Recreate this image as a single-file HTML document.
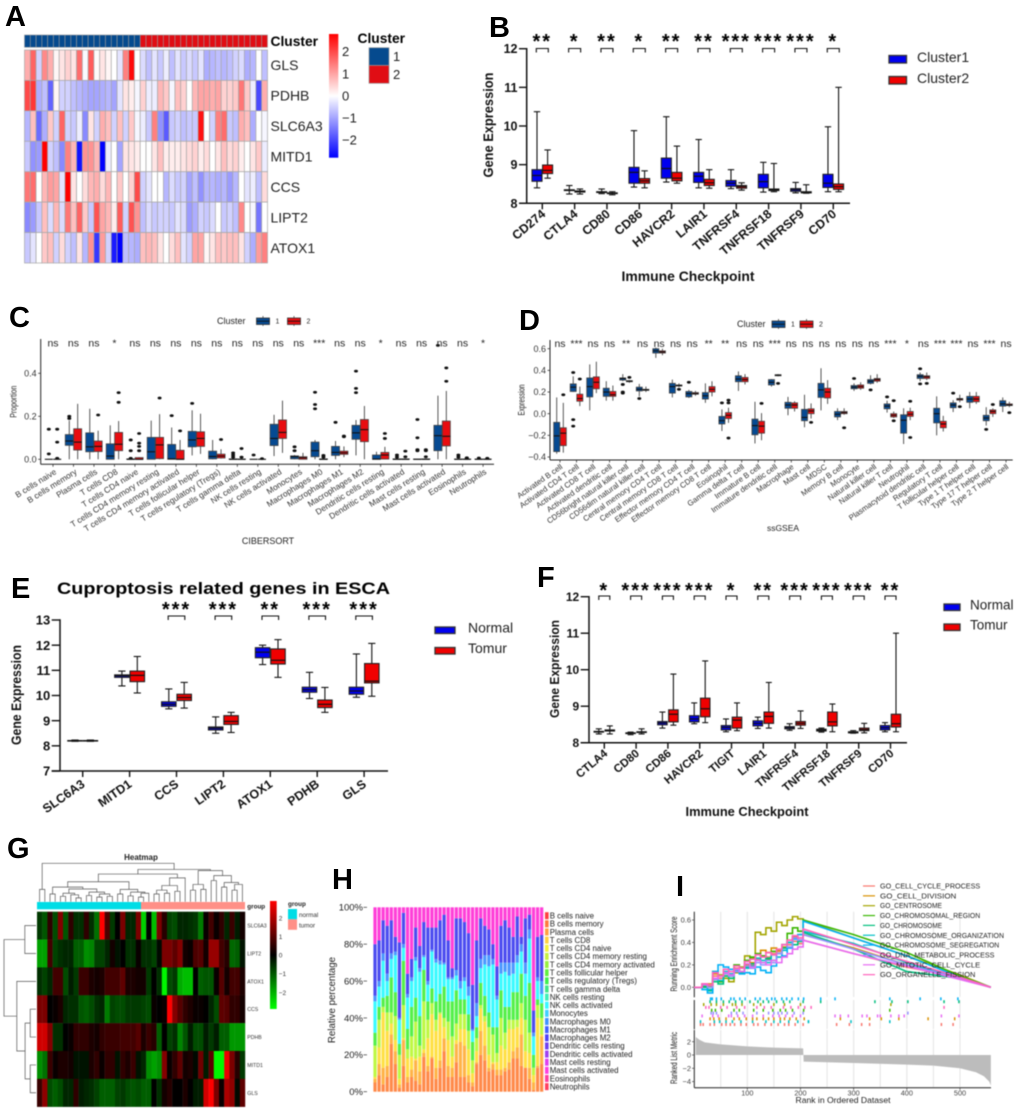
<!DOCTYPE html>
<html><head><meta charset="utf-8"><title>Cuproptosis figure</title>
<style>
html,body{margin:0;padding:0;background:#fff;}
svg{display:block;font-family:"Liberation Sans",Arial,sans-serif;}
.soft{filter:blur(.45px);}
.softer{filter:blur(.55px);}
</style></head>
<body>
<svg id="root" width="1020" height="1111" viewBox="0 0 1020 1111">
<g id="pA" class="soft"></g>
<g id="pB" class="soft"></g>
<g id="pC" class="softer"></g>
<g id="pD" class="softer"></g>
<g id="pE" class="soft"></g>
<g id="pF" class="soft"></g>
<g id="pG" class="softer"></g>
<g id="pH" class="soft"></g>
<g id="pI" class="softer"></g>
<g id="letters"></g>
</svg>
<script>
/* ---------- Panel A data ---------- */
const aRows=['GLS','PDHB','SLC6A3','MITD1','CCS','LIPT2','ATOX1'];
const aGLS=[.9,1.7,-.5,1.3,.9,.1,.3,.5,.3,1.6,-.05,1.8,.05,.3,.1,0,-.3,1.4,2.7,0,-.4,-.7,-.3,-.6,-.2,-.7,-.3,-.6,-.4,-.6,-.3,-.9,-.8,-.7,-.8,-.7,-.5,-.4,-.9,-.8,0,-.7];
const aPDHB=[2,2.2,-.9,-.7,-1.7,.1,-.5,-.5,-.7,-.8,-.9,-1,-1,-.9,-.8,-1,-.3,.3,.2,-.1,.5,-.2,-.2,.8,.6,-.1,.7,.5,0,.8,1,1,.9,1,.5,.5,.6,1.5,.6,-.2,-2,.9];
const aSLC=[-.8,.7,-1.6,-.9,.6,-.5,1.7,-.5,-.6,-.2,-1.3,.3,-.5,.9,.7,-.5,.7,-.5,.6,-.1,-.2,-.6,1.4,-1.2,-1.8,-.6,-.5,-.7,-.6,-.6,2.6,0,-.5,1.4,1.6,-.6,-.7,.9,.7,-.9,0,-.1];
const aMITD=[-.6,-1.2,-1.1,2.8,-.5,-.7,-1.3,1.4,.8,-2.6,1.2,1.2,.8,-2.8,-.2,0,-1,.3,.3,.2,0,0,.3,.7,.2,.2,.2,.3,.4,.5,.2,.4,0,.3,.7,.4,.5,.2,0,.3,.6,-.2];
const aCCS=[1.5,1.6,0,.8,1.1,1,-.3,2.8,.3,0,.4,.8,.9,.4,.8,0,.6,0,.5,2,-.5,-.3,0,0,-.8,-.4,-.6,-.5,-1,-.7,-1.2,-.8,-.8,-.9,-.8,-1.1,-.8,0,-.3,-.2,-.7,.4];
const aLIPT=[-1.3,-1.1,-.6,.7,-.4,.8,-.4,1.5,.7,1.7,.6,-.6,1.9,1,.8,.2,1.8,-.5,1.9,1.2,-.7,-.4,-.6,-.5,-.5,-.6,-.3,-.4,-1.1,-.9,-.5,-.6,-.4,0,-.6,-.5,-.7,1.3,0,-.1,-1.5,0];
const aATOX=[-.6,-.3,0,.6,.7,-.5,.4,-.5,-.7,.3,-.8,1.2,-2.2,1.1,-.5,-2.5,-2.8,-.7,-.8,-.9,.7,.8,.7,.3,0,.4,.7,-.3,-.5,1,1,.1,.3,.7,.6,.7,.7,.3,-.5,-.9,1.1,1.4];
const aTicks=[2,1,0,-1,-2];
const aClusterSizes=[20,22];

/* ---------- Panel B data: [low,q1,median,q3,high] ---------- */
const bCats=['CD274','CTLA4','CD80','CD86','HAVCR2','LAIR1','TNFRSF4','TNFRSF18','TNFRSF9','CD70'];
const bSig=['**','*','**','*','**','**','***','***','***','*'];
const bC1=[[8.4,8.57,8.72,8.87,10.37],[8.24,8.33,8.34,8.35,8.46],[8.25,8.28,8.29,8.3,8.37],[8.42,8.52,8.8,8.93,9.88],[8.55,8.65,8.9,9.17,10.24],[8.4,8.54,8.7,8.8,9.65],[8.38,8.44,8.52,8.59,8.87],[8.29,8.4,8.56,8.75,9.06],[8.27,8.31,8.35,8.38,8.54],[8.3,8.41,8.52,8.75,9.98]];
const bC2=[[8.65,8.77,8.85,8.99,9.38],[8.24,8.29,8.31,8.32,8.37],[8.22,8.25,8.26,8.27,8.3],[8.4,8.52,8.58,8.64,8.84],[8.52,8.58,8.65,8.8,9.48],[8.39,8.46,8.53,8.62,8.87],[8.34,8.39,8.43,8.46,8.53],[8.3,8.33,8.35,8.37,9.03],[8.26,8.27,8.28,8.3,8.48],[8.3,8.36,8.43,8.5,11]];
const bTicks=[8,9,10,11,12];

/* ---------- Panel C data: [low,q1,median,q3,high,outliers] ---------- */
const cCats=['B cells naive','B cells memory','Plasma cells','T cells CD8','T cells CD4 naive','T cells CD4 memory resting','T cells CD4 memory activated','T cells follicular helper','T cells regulatory (Tregs)','T cells gamma delta','NK cells resting','NK cells activated','Monocytes','Macrophages M0','Macrophages M1','Macrophages M2','Dendritic cells resting','Dendritic cells activated','Mast cells resting','Mast cells activated','Eosinophils','Neutrophils'];
const cSig=['ns','ns','ns','*','ns','ns','ns','ns','ns','ns','ns','ns','ns','***','ns','ns','*','ns','ns','ns','ns','*'];
const cC1=[[0,0,0,0,0,[.025,.14]],[0,.065,.085,.115,.18,[.19,.2]],[0,.035,.058,.123,.235,[]],[0,0,.015,.072,.158,[]],[0,0,0,.002,.002,[.005,.04,.09]],[0,0,.035,.102,.18,[]],[0,0,.002,.069,.148,[.203]],[.018,.058,.09,.13,.228,[.26]],[0,.002,.013,.038,.09,[]],[0,0,0,.002,.002,[.01,.02,.03]],[0,0,0,0,0,[.02]],[.015,.064,.097,.163,.207,[]],[0,.002,.012,.016,.02,[.04,.058]],[0,.012,.04,.08,.09,[.235,.255,.312]],[0,.018,.032,.06,.085,[.172]],[.018,.093,.123,.158,.183,[.31,.33,.41]],[0,0,.001,.02,.035,[]],[0,0,0,.002,.002,[.01,.02]],[0,0,0,.001,.001,[.04,.045,.1,.185]],[0,.04,.11,.158,.296,[.53]],[0,0,0,.001,.001,[.01,.02]],[0,0,0,.001,.001,[.006]]];
const cC2=[[0,0,0,0,0,[.005,.08,.14]],[0,.043,.08,.142,.258,[]],[0,.036,.06,.085,.133,[.206]],[0,.04,.07,.125,.178,[.265,.31]],[0,0,0,.008,.01,[.04,.06,.075,.12]],[0,.003,.067,.102,.21,[.285]],[0,0,0,.042,.09,[.132]],[.025,.06,.097,.128,.212,[]],[.003,.006,.015,.024,.047,[.092]],[0,0,0,.001,.001,[.01,.05]],[0,0,0,0,0,[.003]],[.03,.097,.125,.183,.273,[]],[0,0,.007,.012,.03,[]],[0,0,0,.002,.004,[.01,.018]],[.01,.023,.03,.038,.06,[.105,.108]],[0,.082,.138,.185,.248,[]],[0,.001,.02,.032,.058,[.097,.12]],[0,0,0,.002,.002,[.012,.038]],[0,0,0,.002,.002,[.012,.04,.045]],[0,.062,.107,.178,.318,[.363,.425]],[0,0,0,.001,.001,[.005,.007]],[0,0,0,.001,.001,[.005]]];
const cTicks=[0,.2,.4];

/* ---------- Panel D data ---------- */
const dCats=['Activated B cell','Activated CD4 T cell','Activated CD8 T cell','Activated dendritic cell','CD56bright natural killer cell','CD56dim natural killer cell','Central memory CD4 T cell','Central memory CD8 T cell','Effector memory CD4 T cell','Effector memory CD8 T cell','Eosinophil','Gamma delta T cell','Immature  B cell','Immature dendritic cell','Macrophage','Mast cell','MDSC','Memory B cell','Monocyte','Natural killer cell','Natural killer T cell','Neutrophil','Plasmacytoid dendritic cell','Regulatory T cell','T follicular helper cell','Type 1 T helper cell','Type 17 T helper cell','Type 2 T helper cell'];
const dSig=['ns','***','ns','ns','**','ns','ns','ns','ns','**','**','ns','ns','***','ns','ns','ns','ns','ns','ns','***','*','ns','***','***','ns','***','ns'];
const dC1=[[-.37,-.35,-.205,-.08,.15,[]],[.2,.205,.245,.275,.345,[.38,-.055,-.115]],[.03,.155,.25,.33,.455,[]],[.12,.16,.2,.235,.3,[]],[.3,.31,.325,.33,.365,[.27,.2,.19]],[.16,.21,.225,.245,.275,[.14]],[.515,.56,.58,.6,.61,[]],[.15,.19,.25,.28,.315,[]],[.145,.155,.185,.205,.22,[.29]],[.1,.135,.165,.195,.28,[]],[-.16,-.095,-.065,-.025,.04,[.1]],[.21,.295,.32,.35,.39,[]],[-.275,-.195,-.11,-.05,.11,[]],[.25,.265,.29,.315,.32,[]],[-.015,.05,.08,.105,.155,[]],[-.125,-.065,-.035,.04,.175,[]],[.03,.15,.22,.28,.42,[]],[-.06,-.03,-.005,.02,.05,[]],[.21,.23,.245,.26,.28,[.325]],[.27,.28,.3,.315,.355,[.22]],[.01,.045,.07,.09,.12,[.155]],[-.28,-.18,-.06,-.01,.05,[]],[.3,.325,.345,.36,.38,[.415,.275]],[-.2,-.085,0,.05,.16,[]],[.015,.055,.08,.1,.125,[.19]],[.05,.105,.135,.16,.2,[]],[-.11,-.065,-.04,-.015,.06,[-.145]],[.015,.07,.09,.12,.15,[]]];
const dC2=[[-.36,-.295,-.18,-.13,.1,[.175]],[.07,.115,.14,.18,.25,[.32]],[.19,.23,.29,.34,.48,[]],[.12,.16,.175,.205,.26,[]],[.285,.295,.3,.305,.31,[.335]],[.2,.215,.22,.225,.25,[]],[.54,.56,.57,.58,.6,[]],[.245,.255,.26,.265,.28,[.225]],[.165,.18,.185,.195,.21,[]],[.16,.2,.225,.25,.3,[]],[-.085,-.045,-.015,.01,.055,[.125,.1,-.225]],[.27,.295,.315,.335,.365,[]],[-.245,-.18,-.115,-.07,.005,[.095]],[.345,.35,.355,.36,.365,[.28]],[.02,.05,.08,.1,.115,[]],[-.045,0,.025,.045,.095,[-.08]],[.09,.145,.2,.235,.31,[]],[-.01,0,.01,.02,.05,[-.13]],[.22,.235,.25,.265,.29,[]],[.285,.3,.315,.325,.365,[]],[-.04,-.03,-.015,0,.02,[.12,-.065]],[-.06,-.025,-.005,.02,.055,[.115,-.22]],[.31,.325,.34,.35,.38,[.28]],[-.165,-.13,-.095,-.07,-.02,[]],[.105,.125,.135,.14,.175,[.065]],[.09,.11,.135,.16,.2,[]],[-.03,0,.02,.035,.05,[.085]],[.06,.075,.08,.09,.11,[.01]]];
const dTicks=[-.4,-.2,0,.2,.4,.6];

/* ---------- Panel E data ---------- */
const eCats=['SLC6A3','MITD1','CCS','LIPT2','ATOX1','PDHB','GLS'];
const eSig=['','','***','***','**','***','***'];
const eNormal=[[8.18,8.19,8.2,8.21,8.23],[10.38,10.72,10.78,10.82,10.97],[9.47,9.57,9.65,9.75,10.26],[8.5,8.63,8.7,8.75,9.15],[11.23,11.5,11.72,11.9,12],[9.88,10.13,10.23,10.33,10.92],[9.93,10.05,10.18,10.33,11.65]];
const eTumor=[[8.18,8.19,8.2,8.21,8.23],[10.1,10.55,10.8,10.97,11.55],[9.5,9.8,9.92,10.05,10.52],[8.53,8.85,8.97,9.2,9.33],[10.72,11.25,11.4,11.85,12.22],[9.33,9.52,9.65,9.82,10.32],[9.97,10.5,10.57,11.27,12.07]];
const eTicks=[7,8,9,10,11,12,13];

/* ---------- Panel F data ---------- */
const fCats=['CTLA4','CD80','CD86','HAVCR2','TIGIT','LAIR1','TNFRSF4','TNFRSF18','TNFRSF9','CD70'];
const fSig=['*','***','***','***','*','**','***','***','***','**'];
const fNormal=[[8.24,8.29,8.3,8.31,8.38],[8.22,8.25,8.26,8.27,8.29],[8.4,8.49,8.54,8.58,8.84],[8.52,8.57,8.65,8.74,9.09],[8.3,8.35,8.42,8.47,8.65],[8.39,8.46,8.53,8.6,8.7],[8.34,8.38,8.41,8.44,8.52],[8.29,8.32,8.35,8.37,8.4],[8.26,8.27,8.28,8.3,8.33],[8.3,8.35,8.41,8.47,8.55]];
const fTumor=[[8.24,8.32,8.33,8.35,8.46],[8.24,8.28,8.29,8.3,8.38],[8.48,8.57,8.78,8.9,9.88],[8.55,8.71,8.93,9.22,10.24],[8.33,8.4,8.62,8.7,9.09],[8.4,8.53,8.72,8.84,9.65],[8.39,8.48,8.53,8.58,8.87],[8.3,8.46,8.57,8.84,9.06],[8.27,8.33,8.36,8.4,8.53],[8.3,8.43,8.52,8.78,11]];
const fTicks=[8,9,10,11,12];

/* ---------- Panel G data ---------- */
const gRows=['SLC6A3','LIPT2','ATOX1','CCS','PDHB','MITD1','GLS'];
const gSLC=[-.6,-.9,.5,-.8,1.4,-.9,.5,-.5,-.5,.5,-.5,-1.2,2.7,.8,-.6,0,1.3,-.4,-.4,1.3,-2.2,0,-2,1.3,.4,-.7,-.8,-.4,-.4,-.5,-.6,-1.3,.1,.7,.1,.5,-.4,.6,-.3,.2];
const gLIPT=[-1.7,-1.7,.7,-.7,-.5,-.4,-.4,-1,-1,-1.5,-1.4,-.7,-.7,-.4,.2,-.2,0,-.5,-.5,.1,-.5,-.5,-.7,-.1,1.3,1.3,1,1.4,.2,.1,.8,.9,.2,1.6,1.6,.7,.4,-1.1,-1,-.2];
const gATOX=[-.5,-.7,-.4,.7,.7,-.8,-.3,-.6,.6,.6,.3,.2,.3,.7,.7,.7,1,.3,.3,.2,.2,-.6,0,-.5,-2.6,-.8,-.6,-1.8,-2,-2,0,-1,-.9,-.9,.1,.9,.2,.7,.7,.3];
const gCCS=[1.3,1.3,0,.1,.3,-.4,-.5,-.5,-.9,-1,-.8,-.5,-.4,-1.3,-.7,-.8,-.8,-.6,-.6,-.6,-.7,-.8,.1,0,.1,2.7,1.4,.9,.5,.3,.1,.1,0,-.4,-.8,1,.9,.5,.5,.2];
const gPDHB=[2.2,2.2,1.4,-.5,-.5,0,.1,.5,.5,.5,.3,.2,.5,.6,.6,.6,.7,.7,.7,.9,.3,.6,.4,-1,0,-.7,-.5,-1.4,-.9,-.3,-.8,-.8,-.3,-.6,-.3,-1,-1,-1.6,-1.6,-1.6];
const gMITD=[-1.5,-1.2,.6,.1,.3,.3,.2,-.2,-.2,-.2,.3,.5,.1,.5,.5,-.2,.5,.3,.6,-.2,-.4,-1.5,-1.7,-1.5,1.4,.1,.5,1,.2,.3,-.1,1.2,-.3,1,-2.6,-2.6,2.5,1.3,.4,-.6];
const gGLS=[.6,1.5,-.8,-1,-.8,-.4,-.4,.5,-.3,-.4,-.5,-.7,-1,-1,-1,-.7,-.6,-.8,-.9,-.8,-1,-1,0,-.5,.2,.4,0,0,.3,0,-.3,-.3,2.2,2.7,1.3,.1,1.8,1.5,-.1,1];
const gGroupSizes=[20,20];
const gTicks=[2,1,0,-1,-2];
/* merge trees: [height,left,right], 0 = leaf */
const gColTree=[1,[.32,0,0],[.84,[.72,[.52,[.38,[.2,0,0],[.33,[.22,[.14,0,0],[.18,0,[.1,0,0]]],[.25,[.16,0,0],[.2,[.12,0,0],[.14,0,0]]]]],[.32,[.2,0,0],[.25,[.15,0,0],[.22,[.12,0,0],0]]]],[.62,[.42,[.3,[.2,0,0],[.22,0,0]],[.27,0,0]],0]],[.81,[.45,[.3,0,0],[.32,0,0]],[.68,[.55,0,0],[.5,[.38,0,0],[.45,[.3,0,0],0]]]]]];
const gRowTree=[1,[.35,0,0],[.6,0,[.34,[.18,0,0],[.18,0,0]]]];

/* ---------- Panel H data (cumulative percentage tops per bar) ---------- */
const hLegend=['B cells naive','B cells memory','Plasma cells','T cells CD8','T cells CD4 naive','T cells CD4 memory resting','T cells CD4 memory activated','T cells follicular helper','T cells regulatory (Tregs)','T cells gamma delta','NK cells resting','NK cells activated','Monocytes','Macrophages M0','Macrophages M1','Macrophages M2','Dendritic cells resting','Dendritic cells activated','Mast cells resting','Mast cells activated','Eosinophils','Neutrophils'];
const hTopMemory=[5,9,4,8,26,15,2,14,5,8,6,4,19,11,18,7,13,22,8,8,16,8,8,5,3,15,20,17,11,12,9,9,11,12,18,18,14,13,7,1,13,15];
const hTopPlasma=[7,15,13,14,31,22,4,28,8,12,17,11,21,14,19,13,17,29,14,13,26,27,25,9,5,16,33,25,13,15,12,12,13,16,22,24,31,13,13,5,14,30];
const hTopCD8=[8,24,43,33,37,28,7,29,18,19,18,19,23,29,42,33,42,35,28,19,28,34,34,23,10,22,45,38,20,16,16,25,23,34,34,35,40,22,21,9,40,31];
const hTopCD4Rest=[25,39,46,43,43,41,20,47,23,30,38,25,49,39,48,39,43,40,38,30,37,42,42,33,17,29,47,41,35,31,21,40,32,39,39,39,48,39,32,13,47,40];
const hTopGreen=[32,46,51,52,62,54,26,71,34,46,51,41,66,49,56,49,53,57,49,49,55,50,50,42,27,35,59,52,43,35,35,55,46,46,54,54,64,52,59,20,50,48];
const hTopCyan=[49,57,71,60,72,74,39,78,51,60,71,65,73,58,76,70,69,69,61,61,63,56,60,52,33,41,67,69,68,69,50,64,65,63,64,70,76,64,83,30,60,53];
const hTopM0=[52,60,75,64,75,76,40,80,53,62,73,67,74,60,77,72,71,70,62,62,66,60,62,57,34,48,72,74,74,72,52,70,70,70,70,74,80,70,88,32,62,60];
const hTopBlue=[80,82,93,90,93,84,81,97,64,72,89,79,92,89,89,89,93,96,82,67,94,94,92,86,58,82,94,90,88,80,68,90,93,89,84,95,84,94,96,44,84,85];
const hStackTops=[hTopMemory,hTopPlasma,hTopCD8,hTopCD4Rest,hTopGreen,hTopCyan,hTopM0,hTopBlue];
const hYTicks=[0,20,40,60,80,100];

/* ---------- Panel I data ---------- */
const iNames=['GO_CELL_CYCLE_PROCESS','GO_CELL_DIVISION','GO_CENTROSOME','GO_CHROMOSOMAL_REGION','GO_CHROMOSOME','GO_CHROMOSOME_ORGANIZATION','GO_CHROMOSOME_SEGREGATION','GO_DNA_METABOLIC_PROCESS','GO_MITOTIC_CELL_CYCLE','GO_ORGANELLE_FISSION'];
const iRanks=[5,15,25,35,45,55,65,75,85,95,105,115,125,135,145,155,165,175,185,195,205,300,400,500,558];
const iES0=[0,.03,.02,.1,.08,.12,.1,.17,.13,.18,.2,.25,.28,.27,.3,.32,.35,.38,.41,.39,.42,.3,.18,.09,0];
const iES1=[0,.02,.03,.12,.1,.1,.08,.16,.14,.2,.22,.3,.33,.31,.35,.33,.36,.42,.45,.42,.47,.35,.2,.09,0];
const iES2=[0,.03,.01,.14,.11,.08,.05,.13,.18,.28,.26,.49,.47,.53,.5,.58,.55,.6,.63,.61,.6,.44,.28,.11,0];
const iES3=[0,.01,0,.07,.05,.13,.1,.2,.17,.24,.27,.3,.28,.25,.32,.3,.38,.48,.53,.5,.6,.47,.31,.1,0];
const iES4=[0,0,-.03,.05,.03,.1,.08,.15,.13,.18,.21,.24,.22,.26,.24,.3,.35,.4,.38,.41,.49,.34,.14,.08,0];
const iES5=[0,.02,-.02,.08,.06,.14,.12,.15,.12,.17,.19,.26,.24,.22,.29,.27,.33,.4,.44,.42,.5,.39,.22,.08,0];
const iES6=[0,-.02,-.05,.14,.2,.18,.16,.14,.12,.13,.12,.18,.15,.13,.19,.3,.28,.35,.43,.47,.59,.44,.28,.09,0];
const iES7=[0,.02,0,.07,.1,.12,.1,.14,.17,.19,.17,.22,.2,.24,.22,.3,.38,.36,.44,.42,.47,.34,.2,.08,0];
const iES8=[0,.03,.02,.08,.1,.13,.11,.16,.14,.21,.18,.24,.22,.2,.24,.22,.27,.3,.34,.36,.42,.3,.19,.07,0];
const iES9=[0,.03,.02,.13,.1,.16,.14,.19,.17,.23,.25,.29,.27,.31,.29,.34,.38,.42,.46,.44,.52,.38,.23,.09,0];
const iRug0=[12,17,30,38,52,60,68,76,88,98,112,120,133,145,158,170,178,190,205,268,292,315,330,465,487];
const iRug1=[30,37,47,60,75,85,98,110,118,130,140,150,162,170,180,192,207,275,330,352,385,440,490];
const iRug2=[18,32,42,55,72,78,90,112,125,150,170,200,370];
const iRug3=[33,40,52,75,85,112,130,148,162,172,185,206,368];
const iRug4=[31,34,42,51,69,75,86,96,115,124,137,146,152,165,174,184,196,206,238,265,368,425,464,496];
const iRug5=[30,42,55,66,78,90,105,120,130,140,155,168,180,205,238,340,372,402,470,498];
const iRug6=[32,36,42,70,80,92,118,140,150,158,165,175,188,205,402];
const iRug7=[12,38,48,60,72,88,110,135,150,162,178,195,215,215,295,368];
const iRug8=[15,35,45,65,70,82,95,110,130,148,160,172,185,200,265,275,290,316,325,345,350,370,385,395,465,498];
const iRug9=[22,28,50,62,80,95,118,132,145,168,182,196,208,220,470];
const iRugs=[iRug0,iRug7,iRug1,iRug8,iRug6,iRug3,iRug9,iRug2,iRug5,iRug4];
const iRugColors=[0,5,1,8,7,3,9,2,4,6];
const iMetricRanks=[3,10,20,50,100,150,205,206,300,400,450,500,530,545,555,558];
const iMetricValues=[2.7,2.3,1.9,1.6,1.3,1.1,1,-1,-1.2,-1.45,-1.6,-2,-2.6,-3.2,-4,-4.6];
const iMetricTicks=[2,0,-2,-4];
const iESTicks=[0,.2,.4,.6];
const iXTicks=[100,200,300,400,500];
const iGrid=[50,100,150,200,250,300,350,400,450,500];

/* ---------- helpers ---------- */
const NS='http://www.w3.org/2000/svg';
function mk(tag,attrs,name,parent){
  const el=document.createElementNS(NS,tag);
  for(const k in attrs){el.setAttribute(k,attrs[k]);}
  
  
  parent.appendChild(el);
  return el;
}
function T(p,x,y,s,o,name){
  o=o||{};
  const a={x:x,y:y,'font-size':o.size||10,fill:o.fill||'#111'};
  if(o.weight){a['font-weight']=o.weight;}
  if(o.anchor){a['text-anchor']=o.anchor;}
  if(o.rot!==undefined){a.transform='rotate('+o.rot+' '+x+' '+y+')';}
  if(o.len){a.textLength=o.len;a.lengthAdjust='spacingAndGlyphs';}
  if(o.ls){a['letter-spacing']=o.ls;}
  const el=mk('text',a,name,p);
  el.textContent=s;
  return el;
}
function L(p,x1,y1,x2,y2,st,w,name){return mk('line',{x1:x1,y1:y1,x2:x2,y2:y2,stroke:st,'stroke-width':w},name,p);}
function R(p,x,y,w,h,f,name,extra){
  const a={x:x,y:y,width:w,height:Math.max(h,0),fill:f};
  if(extra){for(const k in extra){a[k]=extra[k];}}
  return mk('rect',a,name,p);
}
function linScale(d0,d1,r0,r1){return v=>r0+(v-d0)*(r1-r0)/(d1-d0);}
function mix(a,b,t){return [0,1,2].map(i=>Math.round(a[i]+(b[i]-a[i])*t));}
function rgb(c){return 'rgb('+c[0]+','+c[1]+','+c[2]+')';}
function slug(s){return s.toLowerCase().replace(/[^a-z0-9]+/g,'-').replace(/^-|-$/g,'');}
const $=id=>document.getElementById(id);

/* ---------- letters ---------- */
const letterSet=[['A',5,26],['B',489,37],['C',9,327],['D',519,330],['E',11,598],['F',537,587],['G',7,858],['H',332,889],['I',676,896]];
letterSet.forEach(l=>{T($('letters'),l[1],l[2],l[0],{size:29,weight:'bold',fill:'#000'},'panel-letter-'+l[0].toLowerCase());});

/* ---------- Panel A ---------- */
(function(){
  const p=$('pA'),x0=24.5,cw=243/42,y0=50,rh=213/7,mat=[aGLS,aPDHB,aSLC,aMITD,aCCS,aLIPT,aATOX];
  const col=v=>{const t=Math.min(1,Math.abs(v)/2.8);return rgb(v>=0?mix([255,255,255],[255,0,0],t):mix([255,255,255],[0,0,255],t));};
  let idx=0;
  aClusterSizes.forEach((n,k)=>{for(let i=0;i<n;i++){R(p,x0+idx*cw,35,cw,12.3,k?'#e00d14':'#054a8e','cluster-annotation-cell',{stroke:'#9a9a9a','stroke-width':.6});idx++;}});
  T(p,270.5,46,'Cluster',{size:13.8,weight:'bold',fill:'#000'},'cluster-annotation-label');
  mat.forEach((row,r)=>{
    row.forEach((v,c)=>{R(p,x0+c*cw,y0+r*rh,cw,rh,col(v),'heatmap-cell',{stroke:'#a8a8a8','stroke-width':.7});});
    T(p,270.5,y0+r*rh+rh/2+5,aRows[r],{size:14,fill:'#222'},'row-label-'+slug(aRows[r]));
  });
  const defs=mk('defs',{},'defs',p);
  const g=mk('linearGradient',{id:'aGrad',x1:0,y1:0,x2:0,y2:1},'colorbar-gradient',defs);
  [['0','#ff0000'],['.5','#ffffff'],['1','#0000ff']].forEach(s=>{mk('stop',{offset:s[0],'stop-color':s[1]},'gradient-stop',g);});
  R(p,329,34,9.3,123.7,'url(#aGrad)','colorbar');
  const cy=linScale(-2.8,2.8,157.7,34);
  aTicks.forEach(t=>{T(p,342,cy(t)+4.5,(t<0?'\u2212':'')+Math.abs(t),{size:13,fill:'#222'},'colorbar-tick');});
  T(p,357.5,43,'Cluster',{size:13.8,weight:'bold',fill:'#000'},'legend-title');
  R(p,369,47.7,20,17.7,'#054a8e','legend-swatch-1',{stroke:'#999','stroke-width':.7});
  R(p,369,65.4,20,17.9,'#e00d14','legend-swatch-2',{stroke:'#999','stroke-width':.7});
  T(p,393,61,'1',{size:13,fill:'#222'},'legend-label-1');
  T(p,393,79,'2',{size:13,fill:'#222'},'legend-label-2');
})();

/* ---------- Prism-like boxplots ---------- */
function prism(p,c){
  const y=linScale(c.dMin,c.dMax,c.yMin,c.yMax);
  const x=i=>c.first+i*c.step;
  L(p,c.axL,c.yMin,c.axR,c.yMin,'#111',1.5,'x-axis');
  L(p,c.axY,c.yMin,c.axY,c.yMax-.7,'#111',1.5,'y-axis');
  c.ticks.forEach(t=>{
    L(p,c.axL,y(t),c.axY,y(t),'#111',1.4,'y-tick');
    T(p,c.axL-1.5,y(t)+c.tick/2.8,String(t),{size:c.tick,weight:'bold',anchor:'end'},'y-tick-label');
  });
  const one=(d,cx,f,nm)=>{
    const cw=c.capW;
    L(p,cx,y(d[0]),cx,y(d[4]),'#111',1.1,nm+'-whisker');
    L(p,cx-cw,y(d[0]),cx+cw,y(d[0]),'#111',1.1,nm+'-cap-low');
    L(p,cx-cw,y(d[4]),cx+cw,y(d[4]),'#111',1.1,nm+'-cap-high');
    R(p,cx-c.boxW/2,y(d[3]),c.boxW,y(d[1])-y(d[3]),f,nm+'-box',{stroke:'#222','stroke-width':1.1});
    L(p,cx-c.boxW/2,y(d[2]),cx+c.boxW/2,y(d[2]),'#111',1.2,nm+'-median');
  };
  c.cats.forEach((name,i)=>{
    const cx=x(i);
    one(c.s1[i],cx-c.dodge,'#0000f0','box-'+slug(name)+'-'+c.n1);
    one(c.s2[i],cx+c.dodge,'#f00000','box-'+slug(name)+'-'+c.n2);
    L(p,cx,c.yMin,cx,c.yMin+6,'#111',1.4,'x-tick');
    T(p,cx+c.lx,c.yMin+c.ly,name,{size:c.lab,weight:'bold',anchor:'end',rot:c.rot},'x-label-'+slug(name));
    const s=c.sig[i];
    if(s){
      mk('path',{d:'M'+(cx-c.brW)+' '+(c.brY+4)+'V'+c.brY+'H'+(cx+c.brW)+'V'+(c.brY+4),fill:'none',stroke:'#111','stroke-width':1.1},'significance-bracket',p);
      T(p,cx,c.starY,s,{size:20,weight:'bold',anchor:'middle',ls:2,fill:'#000'},'significance-stars');
    }
  });
  c.legend.forEach((l,i)=>{
    R(p,c.lgX,c.lgY+i*c.lgStep,c.lgW,c.lgH,i?'#f00000':'#0000f0','legend-swatch-'+slug(l),{stroke:'#333','stroke-width':1.3});
    T(p,c.lgTx,c.lgY+i*c.lgStep+c.lgH-1,l,{size:c.lgSize,fill:'#222'},'legend-label-'+slug(l));
  });
}
prism($('pB'),{cats:bCats,sig:bSig,s1:bC1,s2:bC2,ticks:bTicks,dMin:8,dMax:12,yMin:203.3,yMax:48.7,first:542.3,step:32.33,dodge:5.3,boxW:10,capW:3.2,axL:519,axR:850,axY:526.7,tick:12.5,lab:12.5,lx:4,ly:12,rot:-40,brW:6,brY:48.5,starY:48,n1:'cluster1',n2:'cluster2',
  legend:['Cluster1','Cluster2'],lgX:889,lgY:55.5,lgStep:21,lgW:17.5,lgH:7.5,lgTx:917,lgSize:14});
T($('pB'),493,125,'Gene Expression',{size:14,weight:'bold',anchor:'middle',rot:-90,len:105},'y-axis-title');
T($('pB'),688,281,'Immune Checkpoint',{size:13.5,weight:'bold',anchor:'middle',len:133},'x-axis-title');

prism($('pE'),{cats:eCats,sig:eSig,s1:eNormal,s2:eTumor,ticks:eTicks,dMin:7,dMax:13,yMin:771,yMax:620,first:82.7,step:46.9,dodge:7.7,boxW:14.5,capW:3.6,axL:51.7,axR:388,axY:60,tick:13,lab:12.5,lx:3,ly:15,rot:-35,brW:8.3,brY:616,starY:616,n1:'normal',n2:'tumor',
  legend:['Normal','Tomur'],lgX:435,lgY:627,lgStep:20.5,lgW:20,lgH:6.5,lgTx:468,lgSize:14});
T($('pE'),21,695,'Gene Expression',{size:14,weight:'bold',anchor:'middle',rot:-90,len:100},'y-axis-title');
T($('pE'),57,594,'Cuproptosis related genes in ESCA',{size:16.5,weight:'bold',len:333,fill:'#000'},'chart-title');

prism($('pF'),{cats:fCats,sig:fSig,s1:fNormal,s2:fTumor,ticks:fTicks,dMin:8,dMax:12,yMin:742.7,yMax:596.7,first:604.3,step:31.8,dodge:5.5,boxW:9.5,capW:3,axL:580.7,axR:907,axY:589,tick:12,lab:11.5,lx:4,ly:12,rot:-40,brW:5.5,brY:596,starY:597,n1:'normal',n2:'tumor',
  legend:['Normal','Tomur'],lgX:944,lgY:604,lgStep:20,lgW:16,lgH:6.5,lgTx:970,lgSize:13.5});
T($('pF'),559,669,'Gene Expression',{size:13,weight:'bold',anchor:'middle',rot:-90,len:98},'y-axis-title');
T($('pF'),747,816,'Immune Checkpoint',{size:12.5,weight:'bold',anchor:'middle',len:123},'x-axis-title');

/* ---------- ggplot boxplots ---------- */
function gg(p,c){
  const y=linScale(c.v0,c.v1,c.y0,c.y1),x=i=>c.first+i*c.step;
  L(p,c.axX,c.top,c.axX,c.bot,'#222',1,'y-axis');
  L(p,c.axX,c.bot,c.right,c.bot,'#222',1,'x-axis');
  c.ticks.forEach(t=>{
    L(p,c.axX-2.5,y(t),c.axX,y(t),'#333',.8,'y-tick');
    T(p,c.axX-4,y(t)+3.2,t.toFixed(1).replace('-','\u2212'),{size:9,fill:'#333',anchor:'end'},'y-tick-label');
  });
  const one=(d,cx,f,nm)=>{
    L(p,cx,y(d[0]),cx,y(d[4]),'#444',.9,nm+'-whisker');
    R(p,cx-c.bw/2,y(d[3]),c.bw,y(d[1])-y(d[3]),f,nm+'-box',{stroke:'#444','stroke-width':.8});
    L(p,cx-c.bw/2,y(d[2]),cx+c.bw/2,y(d[2]),'#111',1.1,nm+'-median');
    d[5].forEach(o=>{mk('ellipse',{cx:cx,cy:y(o),rx:2,ry:1.4,fill:'#111'},nm+'-outlier',p);});
  };
  c.cats.forEach((name,i)=>{
    const cx=x(i);
    one(c.s1[i],cx-c.dodge,'#064a92',slug(name)+'-cluster1');
    one(c.s2[i],cx+c.dodge,'#e80c10',slug(name)+'-cluster2');
    L(p,cx,c.bot,cx,c.bot+2.5,'#333',.8,'x-tick');
    T(p,cx+c.lx,c.bot+c.ly,name,{size:c.lab,fill:'#333',anchor:'end',rot:c.rot},'x-label-'+slug(name));
    T(p,cx,c.sigY,c.sig[i],{size:10.5,fill:'#222',anchor:'middle'},'significance-label');
  });
  T(p,c.lgX,c.lgY+3,'Cluster',{size:9,fill:'#222'},'legend-title');
  c.lgBox.forEach((bx,i)=>{
    L(p,bx+6.5,c.lgY-5,bx+6.5,c.lgY+5,'#333',.7,'legend-key-whisker');
    R(p,bx,c.lgY-3,13,6.5,i?'#e80c10':'#064a92','legend-key-'+(i+1),{stroke:'#333','stroke-width':.8});
    L(p,bx,c.lgY+.2,bx+13,c.lgY+.2,'#111',.9,'legend-key-median');
    T(p,bx+19,c.lgY+2.5,String(i+1),{size:7,fill:'#222'},'legend-label-'+(i+1));
  });
}
gg($('pC'),{cats:cCats,sig:cSig,s1:cC1,s2:cC2,ticks:cTicks,v0:0,v1:.4,y0:459.3,y1:373.3,first:53,step:20.48,dodge:4.2,bw:8,axX:40.7,top:339,bot:464.3,right:494,lab:8.3,lx:4,ly:9,rot:-32,sigY:346.5,lgX:217,lgY:321,lgBox:[256.5,287.5]});
T($('pC'),16.5,401.7,'Proportion',{size:9,fill:'#222',anchor:'middle',rot:-90,len:32},'y-axis-title');
T($('pC'),268,544,'CIBERSORT',{size:9,fill:'#222',anchor:'middle'},'x-axis-title');
gg($('pD'),{cats:dCats,sig:dSig,s1:dC1,s2:dC2,ticks:dTicks,v0:-.4,v1:.6,y0:457,y1:348.7,first:560,step:16.52,dodge:3.3,bw:6,axX:550,top:340,bot:460,right:1012.7,lab:7.8,lx:3,ly:8,rot:-35,sigY:347,lgX:737,lgY:324,lgBox:[772,800]});
T($('pD'),524.5,400,'Expression',{size:9,fill:'#222',anchor:'middle',rot:-90,len:31},'y-axis-title');
T($('pD'),783,531,'ssGSEA',{size:8.5,fill:'#222',anchor:'middle'},'x-axis-title');

/* ---------- Panel G ---------- */
(function(){
  const p=$('pG'),x0=37,cw=208/40,y0=911.7,rh=195/7,mat=[gSLC,gLIPT,gATOX,gCCS,gPDHB,gMITD,gGLS];
  const col=v=>{const t=Math.min(1,Math.abs(v)/2.7);return rgb(v>=0?[Math.round(255*t),0,0]:[0,Math.round(255*t),0]);};
  mat.forEach((row,r)=>{
    row.forEach((v,c)=>{R(p,x0+c*cw,y0+r*rh,cw+.2,rh+.2,col(v),'heatmap-cell');});
    T(p,247.3,y0+r*rh+rh/2+2,gRows[r],{size:5.2,fill:'#333'},'row-label-'+slug(gRows[r]));
  });
  let s=0;
  gGroupSizes.forEach((n,k)=>{R(p,x0+s*cw,902,n*cw,7.3,k?'#ff9087':'#00dde6',k?'group-bar-tumor':'group-bar-normal');s+=n;});
  T(p,247.3,908.5,'group',{size:6.3,weight:'bold',fill:'#222'},'group-annotation-label');
  T(p,141,860,'Heatmap',{size:8,weight:'bold',anchor:'middle',fill:'#222'},'heatmap-title');
  let leaf=0;
  const drawCol=(n)=>{
    if(!n){const px=x0+(leaf+.5)*cw;leaf++;return {x:px,y:901.7};}
    const a=drawCol(n[1]),b=drawCol(n[2]),yy=901.7-n[0]*38.4;
    mk('path',{d:'M'+a.x+' '+a.y+'V'+yy+'H'+b.x+'V'+b.y,fill:'none',stroke:'#555','stroke-width':.7},'column-dendrogram-branch',p);
    return {x:(a.x+b.x)/2,y:yy};
  };
  drawCol(gColTree);
  leaf=0;
  const drawRow=(n)=>{
    if(!n){const py=y0+(leaf+.5)*rh;leaf++;return {x:36,y:py};}
    const a=drawRow(n[1]),b=drawRow(n[2]),xx=36-n[0]*32;
    mk('path',{d:'M'+a.x+' '+a.y+'H'+xx+'V'+b.y+'H'+b.x,fill:'none',stroke:'#555','stroke-width':.7},'row-dendrogram-branch',p);
    return {x:xx,y:(a.y+b.y)/2};
  };
  drawRow(gRowTree);
  const defs=mk('defs',{},'defs',p);
  const g=mk('linearGradient',{id:'gGrad',x1:0,y1:0,x2:0,y2:1},'colorbar-gradient',defs);
  [['0','#ff0000'],['.5','#000000'],['1','#00ff00']].forEach(c=>{mk('stop',{offset:c[0],'stop-color':c[1]},'gradient-stop',g);});
  R(p,270,901,6.7,108,'url(#gGrad)','colorbar');
  const cy=linScale(0,1,955.3,936.7);
  gTicks.forEach(t=>{T(p,278.7,cy(t)+2.3,(t<0?'\u2212':'')+Math.abs(t),{size:6.5,fill:'#333'},'colorbar-tick');});
  T(p,288,906,'group',{size:6.3,weight:'bold',fill:'#222'},'legend-title');
  R(p,288,909,9,10.3,'#00dde6','legend-swatch-normal');
  R(p,288,919.3,9,10.5,'#ff9087','legend-swatch-tumor');
  T(p,299,917,'normal',{size:6.3,fill:'#333'},'legend-label-normal');
  T(p,299,927.5,'tumor',{size:6.3,fill:'#333'},'legend-label-tumor');
})();

/* ---------- Panel H ---------- */
(function(){
  const p=$('pH'),y=linScale(0,100,1091.7,907.3),step=170.7/42,bw=3.25,x0=373.4;
  const segColors=['#ff8a4a','#ffb348','#ffe046','#bff845','#55f04a','#3cfaff','#4c98ff','#4c4cf0','#ff3fd8'];
  const nBars=hTopMemory.length;
  for(let i=0;i<nBars;i++){
    let prev=0;
    const bx=x0+i*step;
    hStackTops.forEach((tops,k)=>{
      const top=Math.max(prev,tops[i]);
      R(p,bx,y(top),bw,y(prev)-y(top),segColors[k],'bar-'+(i+1)+'-segment');
      prev=top;
    });
    R(p,bx,y(100),bw,y(prev)-y(100),segColors[8],'bar-'+(i+1)+'-mast-cells-activated');
  }
  hYTicks.forEach(t=>{
    L(p,363.5,y(t),367,y(t),'#333',.7,'y-tick');
    T(p,363,y(t)+3.4,t+'%',{size:9.5,anchor:'end',fill:'#222'},'y-tick-label');
  });
  T(p,335,1000,'Relative percentage',{size:9.7,anchor:'middle',rot:-90,fill:'#222'},'y-axis-title');
  const lc=['#ff4040','#ff7a3d','#ffa040','#ffd040','#f4f03c','#c8f040','#98f040','#60f040','#40f050','#40e888','#40f0b8','#38f8ff','#40d0ff','#4094ff','#4060ff','#5040f8','#7040f0','#a040f0','#e040f0','#ff40e0','#ff40a0','#ff4060'];
  hLegend.forEach((n,i)=>{
    const yy=915.7+i*8.14;
    R(p,545,yy-3.5,3.6,7,lc[i],'legend-swatch-'+slug(n));
    T(p,549.7,yy+2.8,n,{size:7.9,fill:'#222'},'legend-label-'+slug(n));
  });
})();

/* ---------- Panel I ---------- */
(function(){
  const p=$('pI'),x=linScale(100,500,747.3,960),y=linScale(0,.6,987.3,920),m=linScale(0,2,1055,1041.7);
  const colors=['#F8766D','#D89000','#A3A500','#39B600','#00BF7D','#00BFC4','#00B0F6','#9590FF','#E76BF3','#FF62BC'];
  const ES=[iES0,iES1,iES2,iES3,iES4,iES5,iES6,iES7,iES8,iES9];
  iGrid.forEach(g=>{
    L(p,x(g),911.7,x(g),997,'#e6e6e6',1.1,'gridline-enrichment');
    L(p,x(g),1000,x(g),1029,'#e6e6e6',1.1,'gridline-rug');
    L(p,x(g),1030,x(g),1087,'#e6e6e6',1.1,'gridline-metric');
  });
  L(p,694.3,911.7,694.3,997.3,'#222',1,'enrichment-y-axis');
  L(p,694.3,1000,694.3,1029.3,'#222',1,'rug-y-axis');
  L(p,694.3,1030,694.3,1087.7,'#222',1,'metric-y-axis');
  L(p,694.3,1087.7,991,1087.7,'#222',1,'x-axis');
  iESTicks.forEach(t=>{
    L(p,692,y(t),694.3,y(t),'#444',.7,'y-tick');
    T(p,691,y(t)+2.6,t.toFixed(1),{size:7.5,anchor:'end',fill:'#444'},'y-tick-label');
  });
  ES.forEach((s,k)=>{
    let d='M'+x(iRanks[0]-5)+' '+y(0);
    iRanks.forEach((r,i)=>{
      if(i===0){d+='L'+x(r)+' '+y(s[i]);}
      else if(r<=205){d+='H'+x(r)+'V'+y(s[i]);}
      else{d+='L'+x(r)+' '+y(s[i]);}
    });
    mk('path',{d:d,fill:'none',stroke:colors[k],'stroke-width':1.6},'es-line-'+slug(iNames[k]),p);
  });
  iRugs.forEach((ranks,row)=>{
    const yy=1026-row*2.85;
    ranks.forEach(r=>{L(p,x(r),yy-3,x(r),yy,colors[iRugColors[row]],1.5,'rug-tick');});
  });
  let d='M'+x(iMetricRanks[0])+' '+m(0);
  iMetricRanks.forEach((r,i)=>{d+='L'+x(r)+' '+m(iMetricValues[i]);});
  d+='L'+x(iMetricRanks[iMetricRanks.length-1])+' '+m(0)+'Z';
  mk('path',{d:d,fill:'#bcbcbc'},'ranked-list-metric-area',p);
  iMetricTicks.forEach(t=>{
    L(p,692,m(t),694.3,m(t),'#444',.7,'y-tick');
    T(p,691,m(t)+2.6,(t<0?'\u2212':'')+Math.abs(t),{size:7.5,anchor:'end',fill:'#444'},'y-tick-label');
  });
  iXTicks.forEach(t=>{
    L(p,x(t),1087.7,x(t),1090,'#444',.7,'x-tick');
    T(p,x(t),1095.5,String(t),{size:7.3,anchor:'middle',fill:'#444'},'x-tick-label');
  });
  T(p,843,1103,'Rank in Ordered Dataset',{size:8.6,anchor:'middle',fill:'#222',len:95},'x-axis-title');
  T(p,677,954,'Running Enrichment Score',{size:9,anchor:'middle',rot:-90,fill:'#222',len:75},'enrichment-y-title');
  T(p,677,1058,'Ranked List Metric',{size:9,anchor:'middle',rot:-90,fill:'#222',len:52},'metric-y-title');
  iNames.forEach((n,i)=>{
    const yy=886+i*9.85;
    L(p,863,yy,875,yy,colors[i],1.2,'legend-key-'+slug(n));
    T(p,880,yy+2.5,n,{size:7,fill:'#222',len:n.length*4.77},'legend-label-'+slug(n));
  });
})();
</script>
</body></html>
